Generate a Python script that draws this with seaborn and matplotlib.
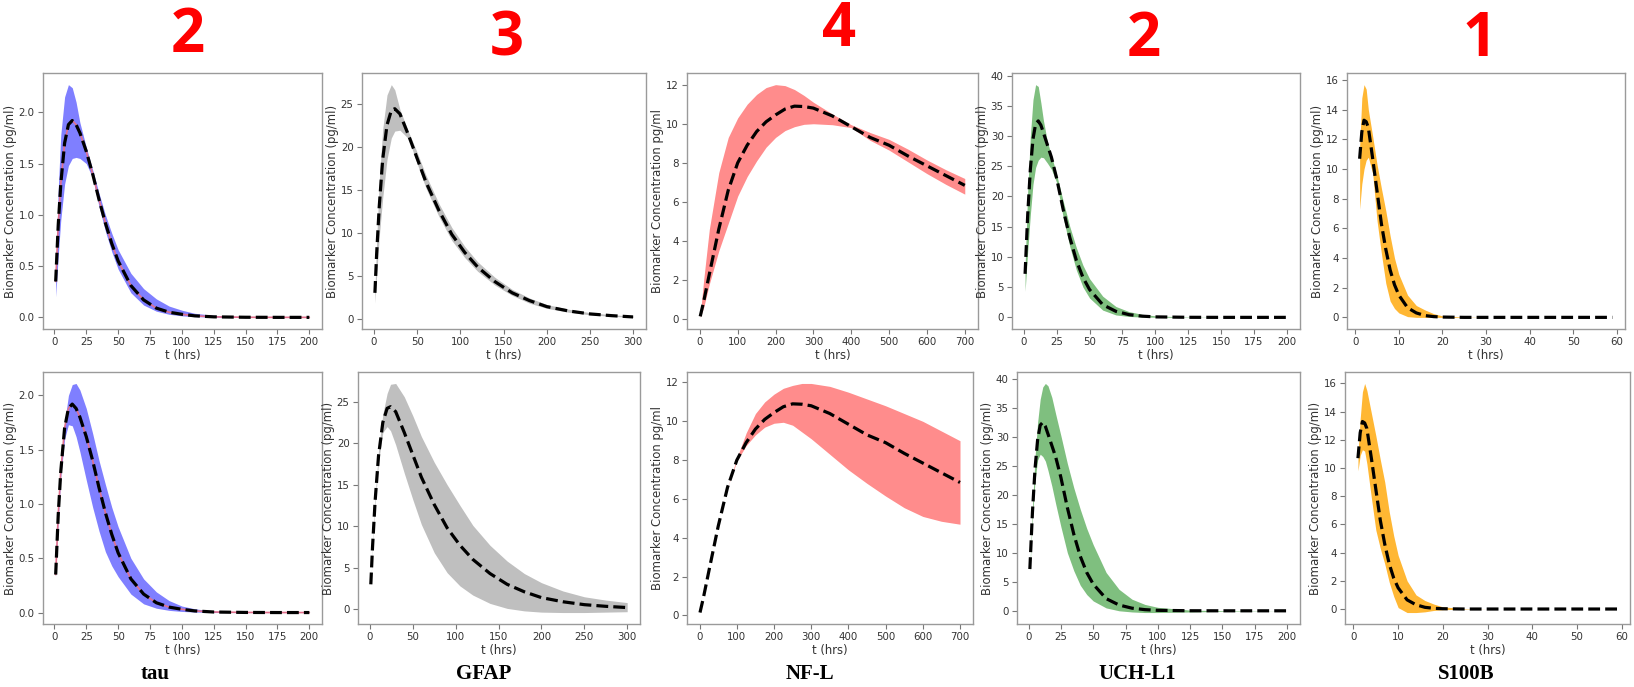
import matplotlib
matplotlib.use("Agg")
import matplotlib.pyplot as plt
from matplotlib.ticker import MultipleLocator
import seaborn as sns

# ---------------- data ----------------
PANEL_NUMBERS = ["2", "3", "4", "2", "1"]
MARKERS = ["tau", "GFAP", "NF-L", "UCH-L1", "S100B"]
YLABELS = ["Biomarker Concentration (pg/ml)", "Biomarker Concentration (pg/ml)",
           "Biomarker Concentration pg/ml", "Biomarker Concentration (pg/ml)",
           "Biomarker Concentration (pg/ml)"]
XLABEL = "t (hrs)"
X_TICK_STEPS = [25, 50, 100, 25, 10]

TAU_T = [1, 3, 5, 8, 11, 14, 17, 20, 25, 30, 35, 40, 45, 50, 60, 70, 80, 90, 100, 110, 125, 150, 175, 200]
TAU_MEAN = [0.35, 0.90, 1.30, 1.70, 1.88, 1.92, 1.88, 1.80, 1.62, 1.40, 1.15, 0.92, 0.72, 0.55, 0.31, 0.17,
            0.09, 0.05, 0.03, 0.015, 0.005, 0.001, 0.0, 0.0]
TAU_HI_TOP = [0.45, 1.25, 1.78, 2.15, 2.27, 2.24, 2.10, 1.90, 1.66, 1.44, 1.21, 1.00, 0.82, 0.66, 0.43, 0.28,
              0.18, 0.11, 0.07, 0.04, 0.02, 0.005, 0.001, 0.0]
TAU_LO_TOP = [0.20, 0.60, 0.95, 1.30, 1.48, 1.55, 1.56, 1.55, 1.50, 1.36, 1.08, 0.84, 0.64, 0.47, 0.24, 0.12,
              0.06, 0.03, 0.015, 0.007, 0.002, 0.0, 0.0, 0.0]
TAU_HI_BOT = [0.37, 0.95, 1.35, 1.75, 2.00, 2.10, 2.11, 2.05, 1.88, 1.65, 1.40, 1.18, 0.97, 0.79, 0.50, 0.31,
              0.19, 0.11, 0.06, 0.035, 0.012, 0.002, 0.0, 0.0]
TAU_LO_BOT = [0.33, 0.85, 1.25, 1.60, 1.73, 1.72, 1.62, 1.48, 1.22, 0.97, 0.75, 0.56, 0.43, 0.33, 0.17, 0.08,
              0.04, 0.02, 0.01, 0.005, 0.0, 0.0, 0.0, 0.0]

GFAP_T = [1, 3, 6, 10, 15, 20, 24, 30, 40, 50, 60, 75, 90, 105, 120, 140, 160, 180, 200, 225, 250, 275, 300]
GFAP_MEAN = [3.0, 7.5, 13.0, 18.5, 22.5, 24.2, 24.4, 23.8, 21.3, 18.6, 15.9, 12.6, 9.8, 7.7, 6.0, 4.3, 3.0,
             2.1, 1.4, 0.9, 0.55, 0.35, 0.2]
GFAP_HI_TOP = [3.3, 9.0, 16.0, 22.0, 26.0, 27.2, 26.6, 24.3, 21.7, 19.3, 16.7, 13.4, 10.6, 8.4, 6.6, 4.8, 3.4,
               2.4, 1.65, 1.1, 0.7, 0.45, 0.3]
GFAP_LO_TOP = [1.8, 5.0, 9.5, 14.0, 18.5, 21.0, 21.8, 21.9, 20.9, 18.0, 15.2, 11.9, 9.1, 7.1, 5.5, 3.9, 2.7,
               1.8, 1.2, 0.75, 0.45, 0.28, 0.15]
GFAP_HI_BOT = [3.1, 7.8, 13.5, 19.2, 23.5, 26.0, 27.1, 27.2, 25.6, 23.3, 20.8, 17.7, 15.0, 12.5, 10.1, 7.7, 5.8,
               4.3, 3.2, 2.2, 1.5, 1.1, 0.8]
GFAP_LO_BOT = [2.9, 7.2, 12.5, 17.8, 21.3, 22.0, 21.5, 19.8, 16.4, 13.2, 10.2, 6.8, 4.4, 2.8, 1.7, 0.7, 0.1,
               -0.2, -0.35, -0.4, -0.4, -0.35, -0.3]

NFL_T = [1, 10, 25, 50, 75, 100, 125, 150, 175, 200, 225, 250, 275, 300, 350, 400, 450, 500, 550, 600, 650, 700]
NFL_MEAN = [0.15, 0.9, 2.3, 4.6, 6.6, 8.0, 8.9, 9.6, 10.1, 10.45, 10.75, 10.9, 10.88, 10.8, 10.4, 9.85, 9.3,
            8.9, 8.35, 7.85, 7.35, 6.85]
NFL_HI_TOP = [0.2, 2.0, 4.6, 7.5, 9.3, 10.3, 11.0, 11.5, 11.85, 12.0, 11.95, 11.75, 11.45, 11.1, 10.5, 9.95,
              9.55, 9.2, 8.7, 8.15, 7.65, 7.2]
NFL_LO_TOP = [0.1, 0.6, 1.8, 3.5, 4.9, 6.3, 7.3, 8.1, 8.8, 9.3, 9.65, 9.85, 9.97, 10.0, 9.95, 9.8, 9.15, 8.65,
              8.05, 7.45, 6.9, 6.4]
NFL_HI_BOT = [0.15, 0.9, 2.3, 4.6, 6.6, 8.1, 9.4, 10.4, 11.0, 11.4, 11.7, 11.85, 11.95, 11.95, 11.8, 11.5,
              11.15, 10.8, 10.4, 10.0, 9.5, 9.0]
NFL_LO_BOT = [0.15, 0.9, 2.3, 4.6, 6.6, 7.95, 8.75, 9.3, 9.7, 9.9, 9.95, 9.8, 9.45, 9.1, 8.3, 7.5, 6.8, 6.15,
              5.55, 5.1, 4.85, 4.7]

UCH_T = [1, 3, 5, 7, 9, 11, 13, 15, 18, 21, 25, 30, 35, 40, 45, 50, 60, 70, 80, 90, 100, 125, 150, 175, 200]
UCH_MEAN = [7.2, 17.0, 24.5, 29.5, 32.0, 32.5, 31.8, 30.5, 28.5, 26.5, 23.0, 17.8, 13.2, 9.4, 6.6, 4.6, 2.1,
            1.0, 0.45, 0.2, 0.08, 0.01, 0.0, 0.0, 0.0]
UCH_HI_TOP = [8.5, 21.0, 30.0, 36.0, 38.5, 38.2, 35.5, 32.5, 29.0, 26.8, 23.6, 19.2, 15.0, 11.5, 8.6, 6.4, 3.5,
              1.8, 0.95, 0.5, 0.25, 0.05, 0.01, 0.0, 0.0]
UCH_LO_TOP = [4.3, 11.0, 17.0, 22.0, 24.8, 26.0, 26.5, 26.4, 25.5, 24.5, 22.3, 16.5, 11.7, 7.8, 5.0, 3.2, 1.2,
              0.4, 0.15, 0.05, 0.02, 0.0, 0.0, 0.0, 0.0]
UCH_HI_BOT = [7.6, 18.0, 26.5, 32.5, 36.5, 38.6, 39.2, 38.8, 36.8, 33.9, 30.2, 25.4, 21.2, 17.5, 14.2, 11.4,
              6.6, 3.7, 2.0, 1.1, 0.6, 0.12, 0.02, 0.0, 0.0]
UCH_LO_BOT = [6.8, 16.0, 22.5, 26.0, 27.0, 26.6, 25.8, 24.2, 21.5, 18.4, 14.5, 10.0, 6.9, 4.4, 2.8, 1.7, 0.5,
              0.0, -0.2, -0.3, -0.3, -0.2, -0.1, -0.05, 0.0]

S100B_T = [1, 1.5, 2, 2.5, 3, 4, 5, 6, 7, 8, 9, 10, 12, 14, 16, 18, 20, 25, 30, 40, 50, 59]
S100B_MEAN = [10.7, 12.5, 13.3, 13.2, 12.8, 10.7, 8.5, 6.3, 4.6, 3.2, 2.2, 1.5, 0.65, 0.3, 0.12, 0.05, 0.02,
              0.0, 0.0, 0.0, 0.0, 0.0]
S100B_HI_TOP = [11.5, 14.8, 15.7, 15.4, 14.0, 12.2, 10.3, 8.7, 7.2, 5.5, 4.0, 2.9, 1.5, 0.8, 0.5, 0.25, 0.1,
                0.02, 0.0, 0.0, 0.0, 0.0]
S100B_LO_TOP = [7.3, 9.0, 10.0, 10.6, 10.8, 9.7, 6.5, 4.3, 2.3, 1.1, 0.6, 0.3, 0.05, 0.0, 0.0, 0.0, 0.0,
                0.0, 0.0, 0.0, 0.0, 0.0]
S100B_HI_BOT = [11.0, 13.5, 15.4, 16.0, 15.5, 13.9, 12.3, 10.6, 9.0, 6.9, 5.2, 3.8, 2.0, 1.0, 0.6, 0.35, 0.15,
                0.03, 0.0, 0.0, 0.0, 0.0]
S100B_LO_BOT = [9.8, 10.9, 11.3, 11.2, 10.3, 7.9, 5.6, 4.3, 3.2, 1.9, 0.9, 0.1, -0.25, -0.25, -0.2, -0.1,
                -0.05, 0.0, 0.0, 0.0, 0.0, 0.0]

# ---------------- styling ----------------
FILL_COLORS = ["blue", "grey", "red", "green", "orange"]
FILL_ALPHAS = [0.5, 0.5, 0.45, 0.5, 0.8]

sns.set_style("ticks")
plt.rcParams["font.family"] = ["DejaVu Sans"]
plt.rcParams["font.stretch"] = "condensed"

W, H = 1634, 687
fig = plt.figure(figsize=(W / 100, H / 100), dpi=100)

top_cols = [(43, 322), (362, 646), (687, 978), (1012, 1300), (1347, 1625)]
bot_cols = [(43, 322), (358, 640), (687, 973), (1017, 1300), (1345, 1630)]
rows = [(73, 329, top_cols), (372, 624, bot_cols)]

panels = [
    [(TAU_T, TAU_MEAN, TAU_LO_TOP, TAU_HI_TOP), (GFAP_T, GFAP_MEAN, GFAP_LO_TOP, GFAP_HI_TOP),
     (NFL_T, NFL_MEAN, NFL_LO_TOP, NFL_HI_TOP), (UCH_T, UCH_MEAN, UCH_LO_TOP, UCH_HI_TOP),
     (S100B_T, S100B_MEAN, S100B_LO_TOP, S100B_HI_TOP)],
    [(TAU_T, TAU_MEAN, TAU_LO_BOT, TAU_HI_BOT), (GFAP_T, GFAP_MEAN, GFAP_LO_BOT, GFAP_HI_BOT),
     (NFL_T, NFL_MEAN, NFL_LO_BOT, NFL_HI_BOT), (UCH_T, UCH_MEAN, UCH_LO_BOT, UCH_HI_BOT),
     (S100B_T, S100B_MEAN, S100B_LO_BOT, S100B_HI_BOT)],
]

TXT = "#333333"
for r, (ytop, ybot, cols) in enumerate(rows):
    for c, (xl, xr) in enumerate(cols):
        ax = fig.add_axes([xl / W, 1 - ybot / H, (xr - xl) / W, (ybot - ytop) / H])
        t, mean, lo, hi = panels[r][c]
        ax.fill_between(t, lo, hi, color=FILL_COLORS[c], alpha=FILL_ALPHAS[c], linewidth=0)
        if c == 0:
            sns.lineplot(x=t, y=mean, ax=ax, color="#e0708c", linewidth=1.2)
        sns.lineplot(x=t, y=mean, ax=ax, color="black", linestyle="--", linewidth=2.3,
                     dashes=(3.6, 1.6))
        ax.margins(x=0.05, y=0.05)
        ax.xaxis.set_major_locator(MultipleLocator(X_TICK_STEPS[c]))
        for s in ax.spines.values():
            s.set_color("#9a9a9a")
            s.set_linewidth(1.0)
        ax.tick_params(axis="both", direction="out", length=3.5, width=0.8, color="#777777",
                       labelsize=8.2, labelcolor=TXT, pad=2.5)
        ax.set_xlabel(XLABEL, fontsize=9.4, color=TXT, labelpad=1.2)
        ax.set_ylabel(YLABELS[c], fontsize=9.4, color=TXT, labelpad=1.2)

# red panel numbers
num_x = [188, 507, 839, 1144, 1480]
num_y = [37, 40, 30, 40, 40]
for s, x, y in zip(PANEL_NUMBERS, num_x, num_y):
    fig.text(x / W, 1 - y / H, s, color="#ff0000", fontsize=43, fontweight="bold",
             family=["Open Sans", "DejaVu Sans"], ha="center", va="center")

# biomarker names
name_x = [155, 484, 810, 1137, 1466]
for s, x in zip(MARKERS, name_x):
    fig.text(x / W, 1 - 674 / H, s, color="black", fontsize=15, fontweight="bold",
             family=["Liberation Serif", "DejaVu Serif"], ha="center", va="center")

fig.savefig("out.png", dpi=100, facecolor="white")
